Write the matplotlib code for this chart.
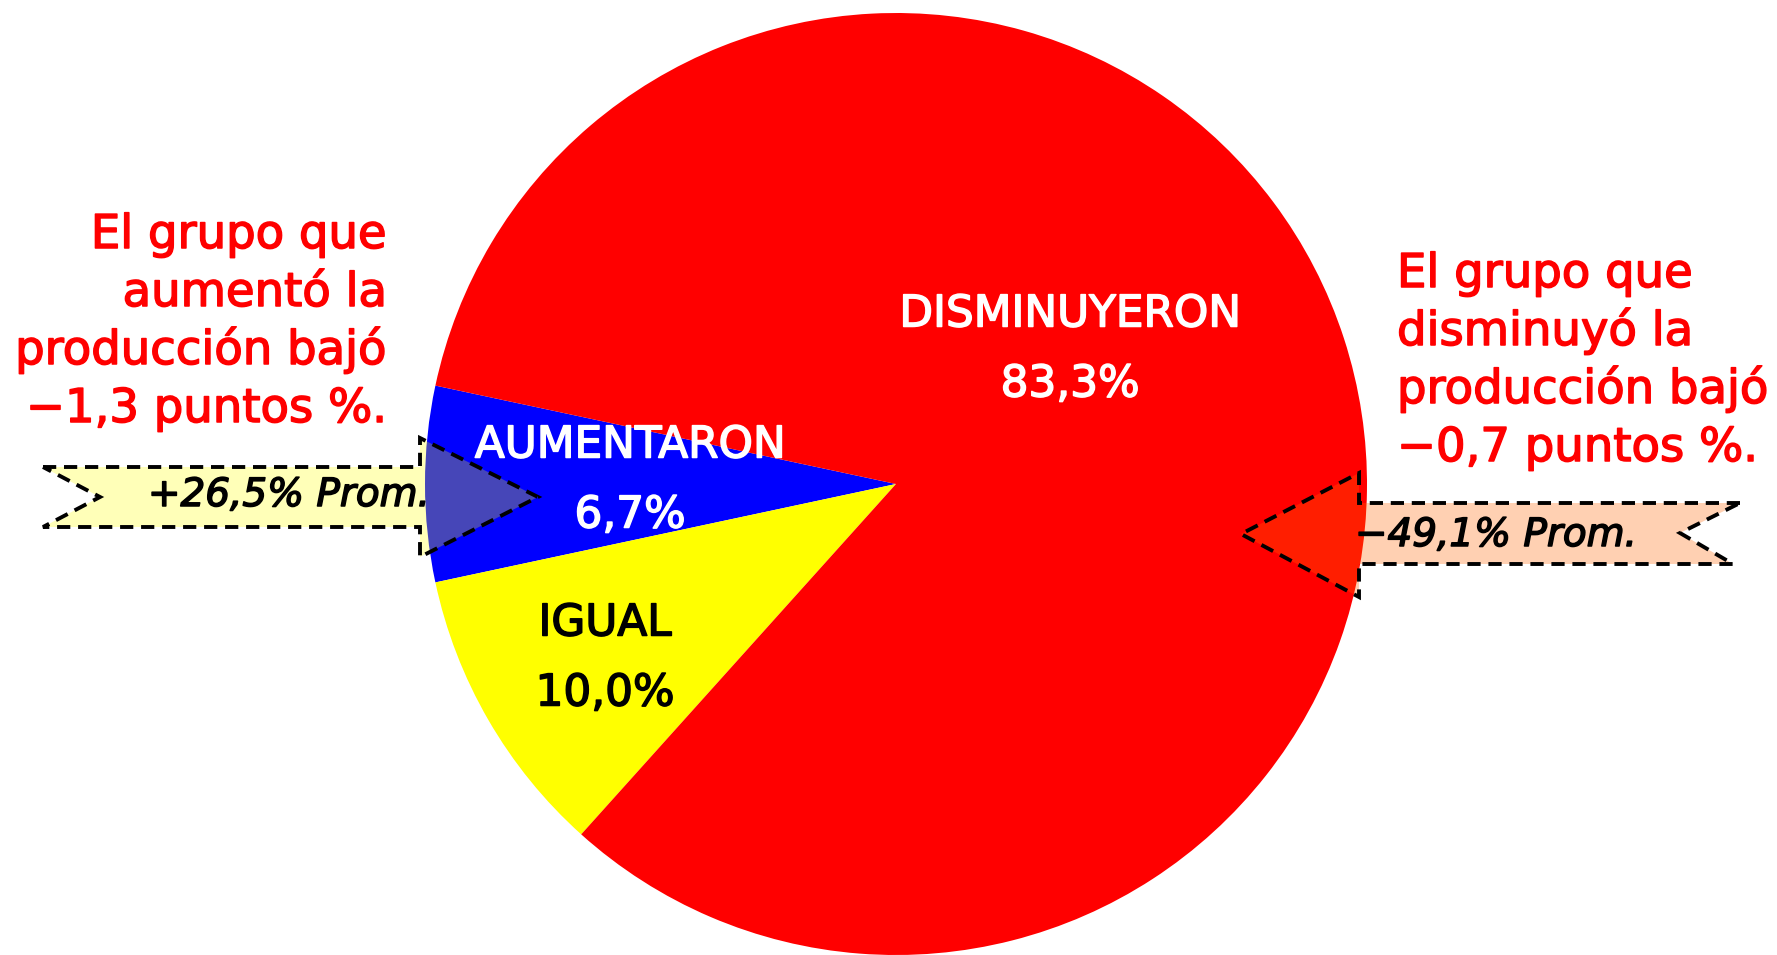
import matplotlib
matplotlib.use("Agg")
import matplotlib.pyplot as plt
import matplotlib.patheffects as pe
from matplotlib.patches import Polygon

plt.rcParams['font.family'] = ['DejaVu Sans']

# Data
categories = ["AUMENTARON", "IGUAL", "DISMINUYERON"]
shares = [6.7, 10.0, 83.3]
slice_colors = ["#0000FF", "#FFFF00", "#FF0000"]
label_colors = ["white", "black", "white"]
# label centers (px, image coords)
label_pos = [(630, 445), (605, 623), (1070, 314)]
value_gap = 70

left_note = ["El grupo que", "aumentó la", "producción bajó", "−1,3 puntos %."]
right_note = ["El grupo que", "disminuyó la", "producción bajó", "−0,7 puntos %."]
left_avg = "+26,5% Prom."
right_avg = "−49,1% Prom."

W, H = 1777, 955
fig = plt.figure(figsize=(W / 100, H / 100), dpi=100)
ax = fig.add_axes([0, 0, 1, 1])


def heavy(col, w=1.1):
    # slightly thicker glyphs, closer to the original font weight
    return [pe.withStroke(linewidth=w, foreground=col)]


# pie, drawn clockwise on screen (y axis is inverted)
start = 180 + shares[0] / 100 * 360 / 2
ax.pie(shares, colors=slice_colors, startangle=start, counterclock=False,
       center=(896, 484), radius=471, frame=True,
       wedgeprops=dict(linewidth=0))
ax.set_xlim(0, W)
ax.set_ylim(H, 0)
ax.set_aspect('equal')
ax.axis('off')

for name, val, col, (x, y) in zip(categories, shares, label_colors, label_pos):
    ax.text(x, y, name, color=col, fontsize=31.5, ha='center', va='center',
            path_effects=heavy(col))
    ax.text(x, y + value_gap, f"{val:.1f}%".replace('.', ','), color=col,
            fontsize=31.5, ha='center', va='center', path_effects=heavy(col))

# notched arrows
left_arrow = [(43, 467), (420, 467), (420, 438), (538, 497), (420, 557),
              (420, 527), (43, 527), (100, 497)]
right_arrow = [(1740, 503), (1359, 503), (1359, 473), (1241, 534), (1359, 597),
               (1359, 564), (1733, 564), (1680, 533)]
ax.add_patch(Polygon(left_arrow, closed=True, facecolor=(1, 1, 0, 0.28),
                     edgecolor='black', linewidth=2.8,
                     linestyle=(0, (3.4, 2.0)), zorder=3))
ax.add_patch(Polygon(right_arrow, closed=True, facecolor=(1, 0.4, 0, 0.3),
                     edgecolor='black', linewidth=2.8,
                     linestyle=(0, (3.4, 2.0)), zorder=3))
ax.text(289, 495, left_avg, fontsize=28, style='italic', color='black',
        ha='center', va='center', zorder=4, path_effects=heavy('black'))
ax.text(1496, 535, right_avg, fontsize=28, style='italic', color='black',
        ha='center', va='center', zorder=4, path_effects=heavy('black'))

# side notes
for i, line in enumerate(left_note):
    ax.text(387, 248 + 58 * i, line, color='#FF0000', fontsize=33.5,
            ha='right', va='baseline', path_effects=heavy('#FF0000'))
for i, line in enumerate(right_note):
    ax.text(1397, 287 + 58 * i, line, color='#FF0000', fontsize=33.5,
            ha='left', va='baseline', path_effects=heavy('#FF0000'))

fig.savefig("out.png", dpi=100, facecolor='white')
